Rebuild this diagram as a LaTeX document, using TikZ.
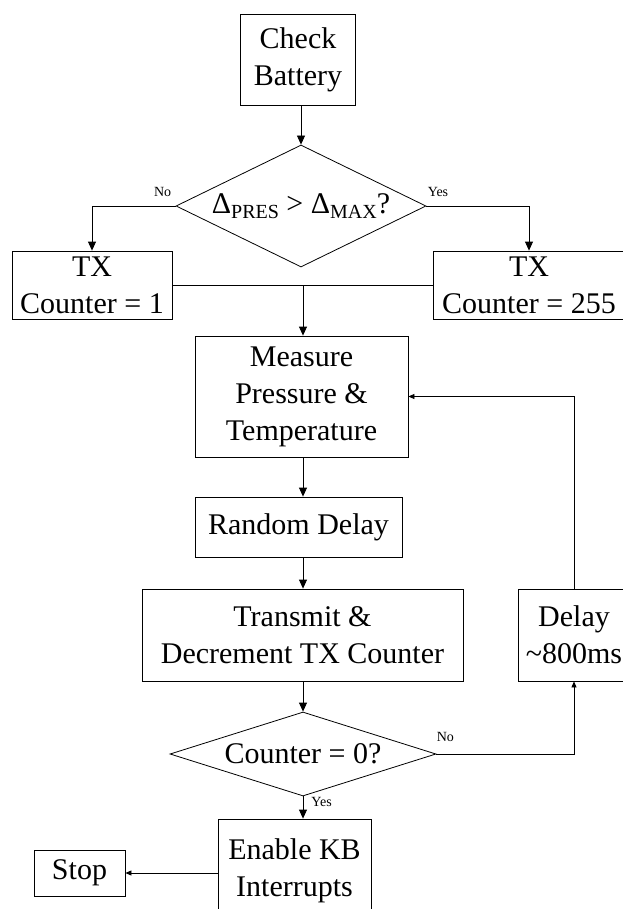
\documentclass[tikz,border=0pt]{standalone}
\usepackage{fontspec}
\setmainfont{Liberation Serif}
\usetikzlibrary{arrows.meta,positioning,shapes.geometric}

\begin{document}
\begin{tikzpicture}[x=1pt,y=-1pt,
    box/.style={draw,line width=0.8pt,align=center,inner sep=0pt,
      font=\fontsize{30}{37}\selectfont},
    decide/.style={draw,diamond,line width=0.8pt,align=center,inner sep=0pt,
      font=\fontsize{30}{37}\selectfont},
    lbl/.style={inner sep=0pt,font=\fontsize{14}{16}\selectfont},
    line width=0.8pt,
    >={Triangle[length=9pt,width=8pt]},
    small/.style={-{Triangle[length=6pt,width=5pt]}}]
      \useasboundingbox (0,0) rectangle (622,909);
      \node[box,minimum width=115pt,minimum height=91pt] (check) at (298,59.5) {Check\\Battery};
      \node[decide,aspect=2.05,minimum width=250pt,minimum height=122pt] (dpres) at (301,206)
        {Δ\raisebox{-5pt}{\fontsize{20}{20}\selectfont PRES} > Δ\raisebox{-5pt}{\fontsize{20}{20}\selectfont MAX}?};
      \node[box,minimum width=160pt,minimum height=68pt] (txlow) at (92,285) {TX\\Counter = 1};
      \node[box,minimum width=192pt,minimum height=68pt] (txhigh) at (529,285) {TX\\Counter = 255};
      \node[box,minimum width=213pt,minimum height=121pt] (measure) at (301.5,396.5) {Measure\\Pressure \&\\Temperature};
      \node[box,minimum width=207pt,minimum height=60pt] (rnd) at (298.5,527) {Random Delay};
      \node[box,minimum width=321pt,minimum height=92pt] (transmit) at (302.5,635) {Transmit \&\\Decrement TX Counter};
      \node[box,minimum width=112pt,minimum height=92pt] (wait) at (574,635) {Delay\\\textasciitilde800ms};
      \node[decide,aspect=3.17,minimum width=266pt,minimum height=84pt] (dzero) at (303,754) {Counter = 0?};
      \node[box,minimum width=153pt,minimum height=104pt] (enable) at (294.5,871) {Enable KB\\Interrupts};
      \node[box,minimum width=91pt,minimum height=46pt] (stop) at (79.5,873) {Stop};
      \coordinate (join) at (303,285);
      % branch labels
      \node[lbl,above left=9pt and 4pt of dpres.west] (nofirst) {No};
      \node[lbl,above right=9pt and 1pt of dpres.east] (yesfirst) {Yes};
      \node[lbl,above right=12pt and 0pt of dzero.east] (nozero) {No};
      \node[lbl,below right=1pt and 8pt of dzero.south] (yeszero) {Yes};
      \draw[->] (check.south -| dpres.north) -- (dpres.north);
      \draw[->] (dpres.west) -| (txlow.north);
      \draw[->] (dpres.east) -| (txhigh.north);
      \draw (txlow.east) -- (txhigh.west);
      \draw[->] (join) -- (measure.north -| join);
      \draw[->] (measure.south -| join) -- (rnd.north -| join);
      \draw[->] (rnd.south -| join) -- (transmit.north -| join);
      \draw[->] (transmit.south -| join) -- (dzero.north);
      \draw[->] (dzero.south) -- (enable.north -| dzero.south);
      \draw[small] (dzero.east) -| (wait.south);
      \draw[small] (wait.north) |- (measure.east);
      \draw[small] (enable.west |- stop.east) -- (stop.east);
\end{tikzpicture}
\end{document}
